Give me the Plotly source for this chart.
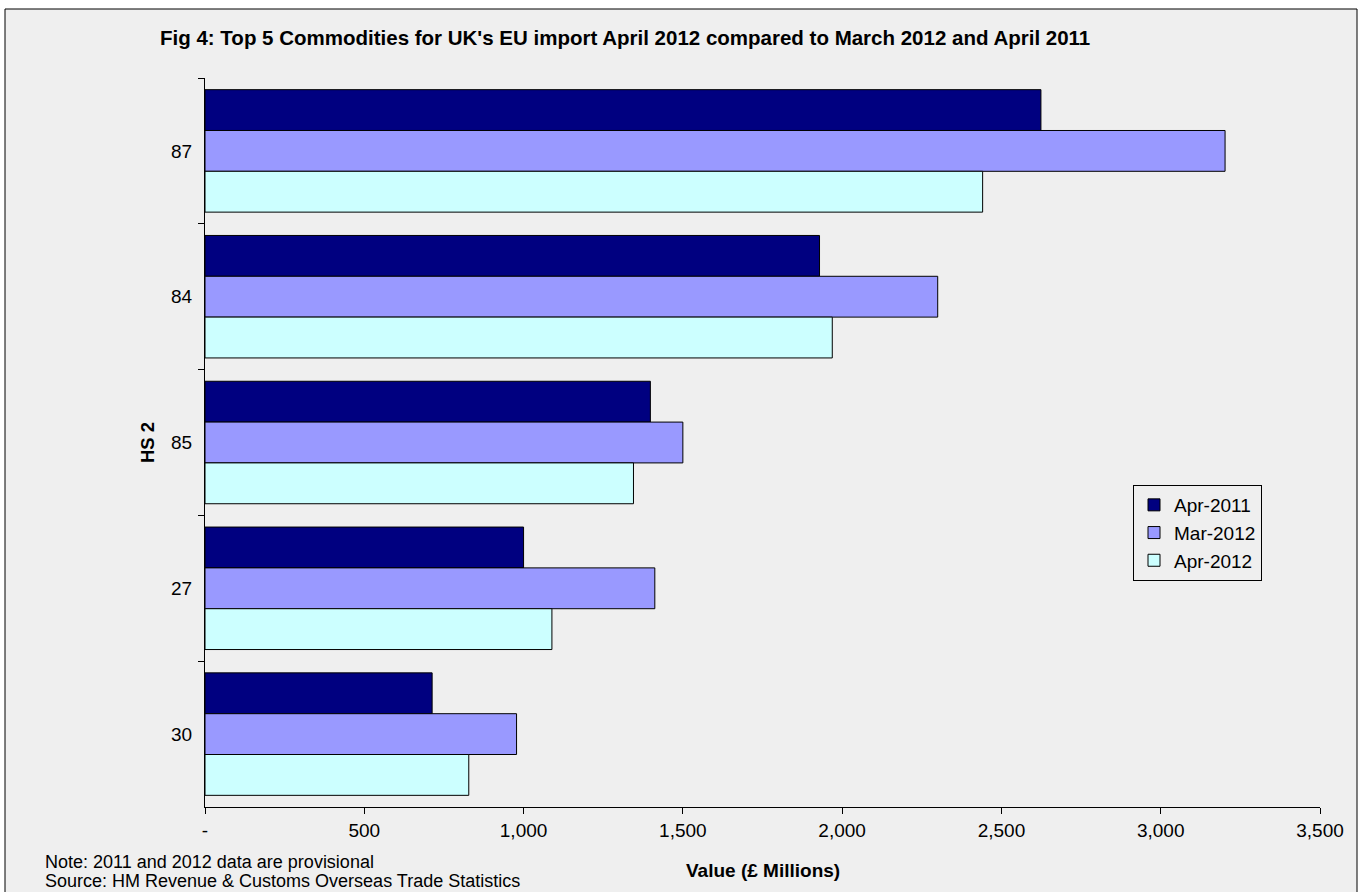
import plotly.graph_objects as go

categories = ["87", "84", "85", "27", "30"]
apr_2011 = [2624, 1929, 1398, 1000, 713]
mar_2012 = [3202, 2300, 1500, 1412, 978]
apr_2012 = [2441, 1969, 1345, 1089, 828]
series_names = ["Apr-2011", "Mar-2012", "Apr-2012"]
series_colors = ["#000080", "#9999FF", "#CCFFFF"]
x_tickvals = [0, 500, 1000, 1500, 2000, 2500, 3000, 3500]
x_ticktext = ["-", "500", "1,000", "1,500", "2,000", "2,500", "3,000", "3,500"]

W, H = 1364, 892
L, R, T, B = 205, 44, 78, 85
pw, ph = W - L - R, H - T - B


def px(x):
    return (x - L) / pw


def py(y):
    return (H - B - y) / ph


FONT = "Liberation Sans, Arial, sans-serif"
TICK = 19
fig = go.Figure()
for name, vals, col in zip(series_names, [apr_2011, mar_2012, apr_2012], series_colors):
    fig.add_trace(go.Bar(
        y=categories, x=vals, name=name, orientation="h",
        marker=dict(color=col, line=dict(color="#000000", width=1)),
        legendgroup=name,
    ))

fig.update_layout(
    width=W, height=H,
    margin=dict(l=L, r=R, t=T, b=B, pad=0),
    paper_bgcolor="#FFFFFF",
    plot_bgcolor="rgba(0,0,0,0)",
    barmode="group", bargap=0.16, bargroupgap=0,
    font=dict(family=FONT, size=TICK, color="#000000"),
    showlegend=True,
    legend=dict(
        x=px(1262), y=py(485), xanchor="right", yanchor="top",
        bgcolor="#EFEFEF", bordercolor="#000000", borderwidth=1,
        font=dict(family=FONT, size=TICK), traceorder="normal",
        tracegroupgap=8, itemwidth=30,
    ),
    xaxis=dict(
        range=[0, 3500], tickvals=x_tickvals, ticktext=x_ticktext,
        showgrid=False, zeroline=False, showline=True, linecolor="#000000", linewidth=1,
        ticks="outside", ticklen=6, tickcolor="#000000",
        tickfont=dict(family=FONT, size=TICK),
    ),
    yaxis=dict(
        type="category", categoryorder="array", categoryarray=categories,
        autorange="reversed",
        showgrid=False, zeroline=False, showline=True, linecolor="#000000", linewidth=1,
        ticks="outside", ticklen=6, tickcolor="#000000", tickson="boundaries",
        tickfont=dict(family=FONT, size=TICK), ticklabelstandoff=8,
    ),
    shapes=[dict(
        type="rect", xref="paper", yref="paper",
        x0=px(5), x1=px(1357), y0=py(905), y1=py(9),
        fillcolor="#EFEFEF", line=dict(color="#000000", width=1), layer="below",
    )],
    annotations=[
        dict(text="<b>Fig 4: Top 5 Commodities for UK's EU import April 2012 compared to March 2012 and April 2011</b>",
             xref="paper", yref="paper", x=px(158), y=py(37), xanchor="left", yanchor="middle",
             showarrow=False, font=dict(family=FONT, size=20.5)),
        dict(text="<b>HS 2</b>", xref="paper", yref="paper", x=px(147), y=py(443),
             xanchor="center", yanchor="middle", textangle=-90, showarrow=False,
             font=dict(family=FONT, size=18.5)),
        dict(text="<b>Value (£ Millions)</b>", xref="paper", yref="paper", x=0.5, y=py(870),
             xanchor="center", yanchor="middle", showarrow=False,
             font=dict(family=FONT, size=19)),
        dict(text="Note: 2011 and 2012 data are provisional",
             xref="paper", yref="paper", x=px(43), y=py(862), xanchor="left", yanchor="middle",
             align="left", showarrow=False, font=dict(family=FONT, size=18)),
        dict(text="Source: HM Revenue & Customs Overseas Trade Statistics",
             xref="paper", yref="paper", x=px(43), y=py(881), xanchor="left", yanchor="middle",
             align="left", showarrow=False, font=dict(family=FONT, size=18)),
    ],
)

fig.write_html("out.html")
